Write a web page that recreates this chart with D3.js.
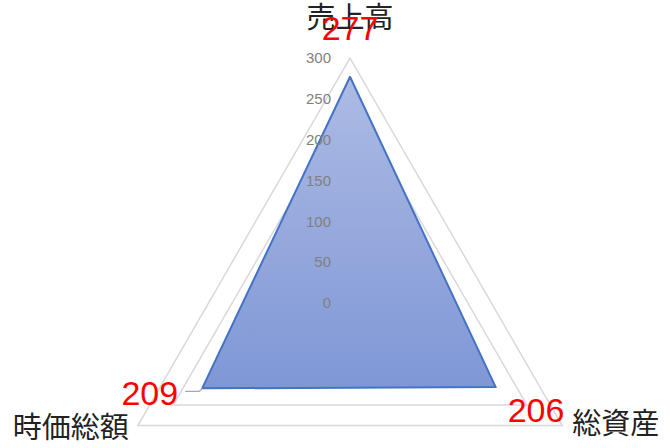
<!DOCTYPE html>
<html lang="ja">
<head>
<meta charset="utf-8">
<title>レーダーチャート</title>
<script src="https://d3js.org/d3.v7.min.js"></script>
<style>
  body { margin: 0; background: #fff; }
  svg { display: block; }
  .tick-label { font-family: "Liberation Sans", sans-serif; font-size: 15px; fill: #7f7f7f; }
  .cat-label { font-family: "Noto Sans CJK JP", sans-serif; font-size: 29px; fill: #222; }
  .val-label { font-family: "Liberation Sans", sans-serif; font-size: 34px; fill: #ff0000; }
</style>
</head>
<body>
<svg width="670" height="448"></svg>
<script>
const categories = ["売上高", "総資産", "時価総額"];
const values = [277, 206, 209];
const tickValues = [0, 50, 100, 150, 200, 250, 300];

const cx = 350, cy = 303;
const svg = d3.select("svg");

const r = d3.scaleLinear().domain([0, 300]).range([0, 245]);
const angle = d3.scaleLinear().domain([0, categories.length]).range([-Math.PI / 2, 1.5 * Math.PI]);

function point(i, v) {
    const a = angle(i);
    return [cx + r(v) * Math.cos(a), cy + r(v) * Math.sin(a)];
}

// gradient for the area
const grad = svg.append("defs").append("linearGradient")
    .attr("id", "fillGrad")
    .attr("x1", 0).attr("y1", 0).attr("x2", 0).attr("y2", 1);
grad.append("stop").attr("offset", "0%").attr("stop-color", "#adbbe4");
grad.append("stop").attr("offset", "100%").attr("stop-color", "#7f97d6");

// grid triangles
const line = d3.line();
svg.append("g").selectAll("path")
    .data(tickValues.filter(t => t > 0))
    .join("path")
    .attr("d", t => line(categories.map((c, i) => point(i, t))) + "Z")
    .attr("fill", "none")
    .attr("stroke", "#d9d9d9")
    .attr("stroke-width", 1.5);

// data area
svg.append("path")
    .attr("d", line(values.map((v, i) => point(i, v))) + "Z")
    .attr("fill", "url(#fillGrad)")
    .attr("stroke", "#4472c4")
    .attr("stroke-width", 2)
    .attr("stroke-linejoin", "round");

// tick labels along the top axis
svg.append("g").selectAll("text")
    .data(tickValues)
    .join("text")
    .attr("class", "tick-label")
    .attr("x", cx - 19)
    .attr("y", t => cy - r(t))
    .attr("dy", "0.35em")
    .attr("text-anchor", "end")
    .text(t => t);

// category labels
const catOffsets = [[0, -30, "middle"], [10, 8, "start"], [-9, 12, "end"]];
svg.append("g").selectAll("text")
    .data(categories)
    .join("text")
    .attr("class", "cat-label")
    .attr("x", (c, i) => point(i, 300)[0] + catOffsets[i][0])
    .attr("y", (c, i) => point(i, 300)[1] + catOffsets[i][1])
    .attr("text-anchor", (c, i) => catOffsets[i][2])
    .text(c => c);

// leader line for the left value label
const lv = point(2, values[2]);
svg.append("path")
    .attr("d", line([[lv[0] - 17, lv[1] + 3], [lv[0] - 3, lv[1] + 3], [lv[0], lv[1]]]))
    .attr("fill", "none")
    .attr("stroke", "#a6a6a6")
    .attr("stroke-width", 1.2);

// value labels
const valOffsets = [[0, -37, "middle"], [12, 35, "start"], [-24, 17, "end"]];
svg.append("g").selectAll("text")
    .data(values)
    .join("text")
    .attr("class", "val-label")
    .attr("x", (v, i) => point(i, v)[0] + valOffsets[i][0])
    .attr("y", (v, i) => point(i, v)[1] + valOffsets[i][1])
    .attr("text-anchor", (v, i) => valOffsets[i][2])
    .text(v => v);
</script>
</body>
</html>
